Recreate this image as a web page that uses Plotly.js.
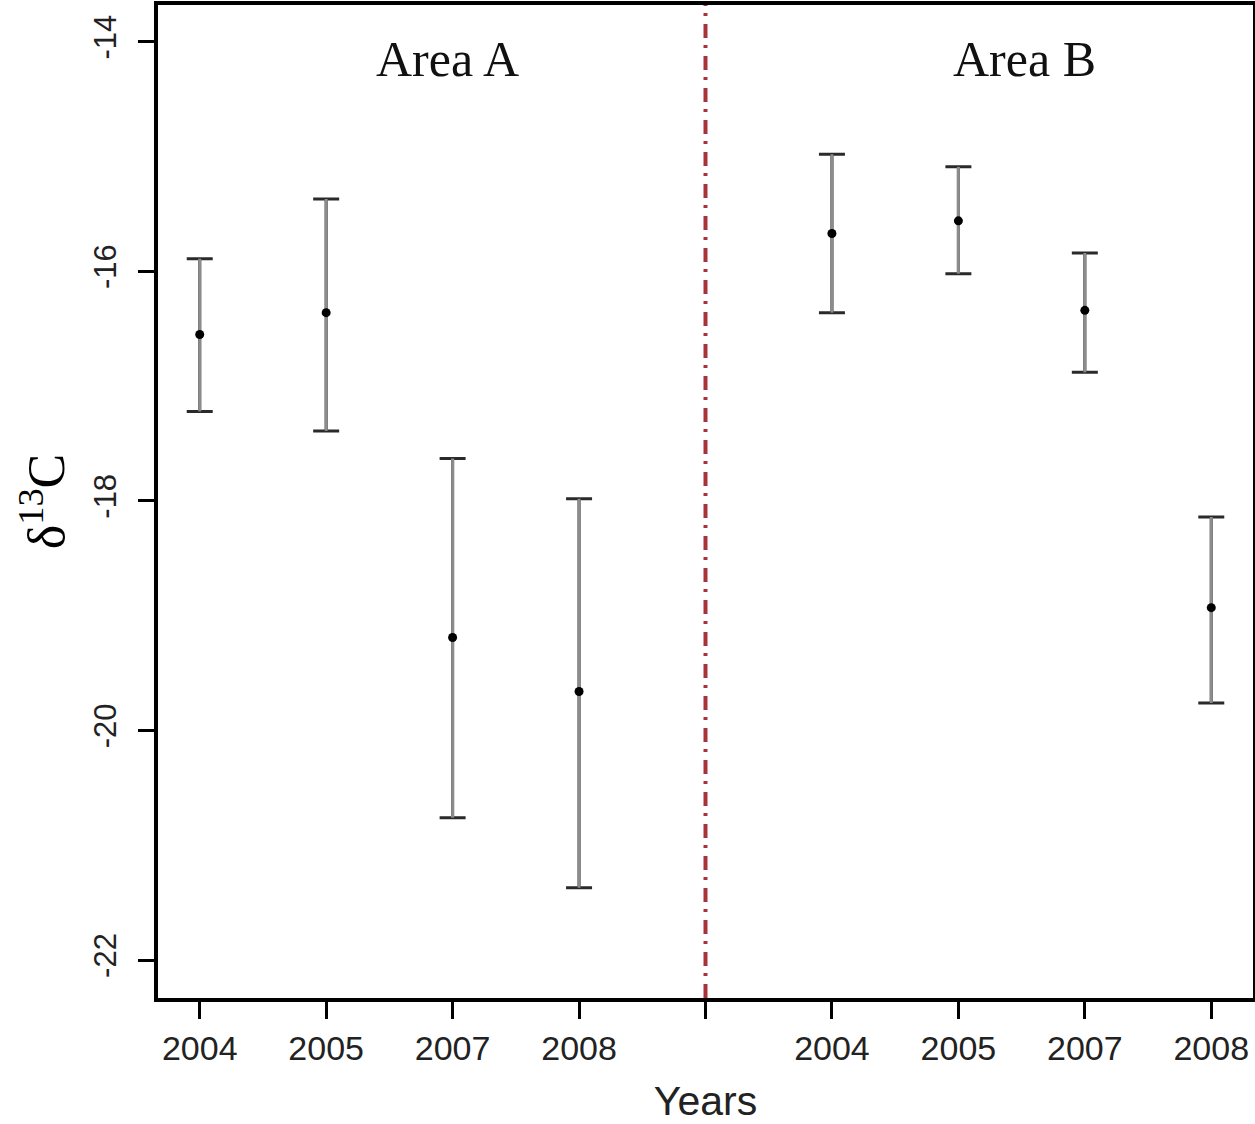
<!DOCTYPE html>
<html>
<head>
<meta charset="utf-8">
<script src="https://cdn.plot.ly/plotly-3.0.1.min.js"></script>
<style>html,body{margin:0;padding:0;background:#fff;}#chart{width:1255px;height:1124px;}</style>
</head>
<body>
<div id="chart"></div>
<script>
// Data
const positions = [1, 2, 3, 4, 6, 7, 8, 9];
const tickPositions = [1, 2, 3, 4, 5, 6, 7, 8, 9];
const tickLabels = ["2004", "2005", "2007", "2008", "", "2004", "2005", "2007", "2008"];
const meanValues = [-16.55, -16.36, -19.19, -19.66, -15.67, -15.56, -16.34, -18.93];
const upperValues = [-15.89, -15.37, -17.63, -17.98, -14.98, -15.09, -15.84, -18.14];
const lowerValues = [-17.22, -17.39, -20.76, -21.37, -16.36, -16.02, -16.88, -19.76];
const yTickValues = [-22, -20, -18, -16, -14];
const yTickLabels = ['-22', '-20', '-18', '-16', '-14'];
const areaLabels = ["Area A", "Area B"];
const areaLabelX = [2.96, 7.52];
const dividerX = 5;

const errPlus = meanValues.map((m, i) => upperValues[i] - m);
const errMinus = meanValues.map((m, i) => m - lowerValues[i]);

// caps (dark) drawn first, then lighter stems on top
const capsTrace = {
  x: positions, y: meanValues,
  type: 'scatter', mode: 'markers',
  marker: {color: 'rgba(0,0,0,0)', size: 1},
  error_y: {type: 'data', symmetric: false, array: errPlus, arrayminus: errMinus,
            color: '#2a2a2a', thickness: 3, width: 13},
  showlegend: false, hoverinfo: 'skip'
};
const stemTrace = {
  x: positions, y: meanValues,
  type: 'scatter', mode: 'markers',
  marker: {color: '#000', size: 9},
  error_y: {type: 'data', symmetric: false, array: errPlus, arrayminus: errMinus,
            color: '#8c8c8c', thickness: 3, width: 0},
  showlegend: false, hoverinfo: 'skip'
};

const layout = {
  width: 1255, height: 1124,
  margin: {l: 158, r: 2, t: 5, b: 126},
  paper_bgcolor: '#fff', plot_bgcolor: '#fff',
  xaxis: {
    range: [0.67, 9.33],
    tickmode: 'array', tickvals: tickPositions, ticktext: tickLabels,
    ticks: 'outside', ticklen: 17, tickwidth: 3, tickcolor: '#000',
    ticklabelstandoff: 0,
    showgrid: false, zeroline: false,
    showline: true, linecolor: '#000', linewidth: 4, mirror: true,
    tickfont: {family: 'Liberation Sans, Arial, sans-serif', size: 34, color: '#222'},
    title: {text: 'Years', font: {family: 'Liberation Sans, Arial, sans-serif', size: 41, color: '#222'}, standoff: 24}
  },
  yaxis: {
    range: [-22.33, -13.68],
    tickmode: 'array', tickvals: yTickValues, ticktext: yTickLabels,
    tickangle: -90,
    ticks: 'outside', ticklen: 16, tickwidth: 3, tickcolor: '#000',
    ticklabelstandoff: 10,
    showgrid: false, zeroline: false,
    showline: true, linecolor: '#000', linewidth: 4, mirror: true,
    tickfont: {family: 'Liberation Sans, Arial, sans-serif', size: 31, color: '#222'},
    title: {text: 'δ<sup>13</sup>C', font: {family: 'Liberation Serif, Times New Roman, serif', size: 52, color: '#000'}, standoff: 7}
  },
  shapes: [{
    type: 'line', xref: 'x', yref: 'paper',
    x0: dividerX, x1: dividerX, y0: 0, y1: 1,
    line: {color: '#a8323a', width: 4, dash: '14px,8px,3px,7px'}
  }],
  annotations: areaLabels.map((t, i) => ({
    text: t, x: areaLabelX[i], xref: 'x', y: -14.15, yref: 'y',
    showarrow: false, xanchor: 'center', yanchor: 'middle',
    font: {family: 'Liberation Serif, Times New Roman, serif', size: 50, color: '#111'}
  }))
};

Plotly.newPlot('chart', [capsTrace, stemTrace], layout, {displayModeBar: false, staticPlot: true});
</script>
</body>
</html>
